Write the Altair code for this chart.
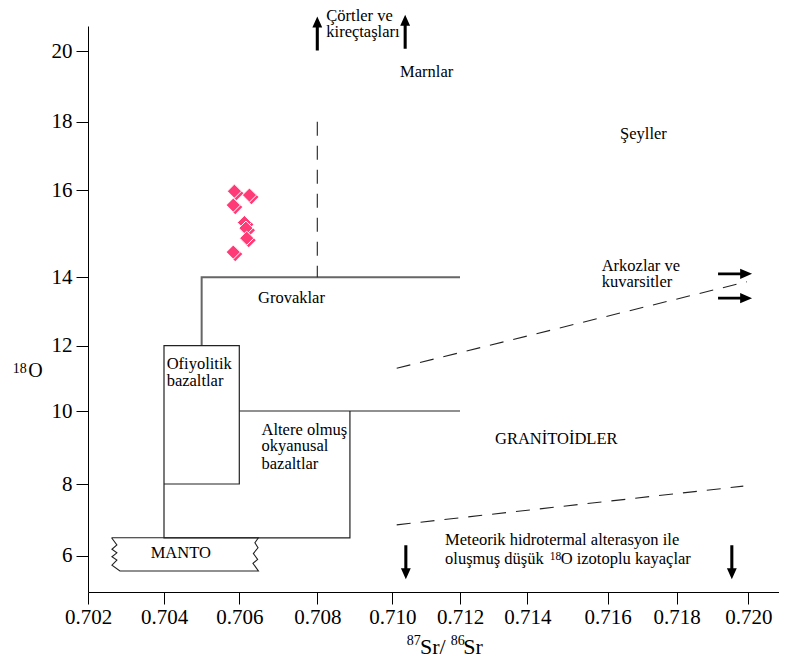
import altair as alt
import pandas as pd

FONT = "'Liberation Serif', 'Times New Roman', Tinos, 'DejaVu Serif', serif"
PINK = "#FF3B77"

# ---- axes (the source figure's tick spacing is slightly uneven) ----
x_domain = [0.702, 0.704, 0.706, 0.708, 0.710, 0.712, 0.714, 0.716, 0.718, 0.720, 0.72086]
x_range = [0, 76, 151.3, 229.3, 304.3, 372, 439.3, 519.7, 588.7, 660.3, 691]
y_domain = [5.0, 6, 8, 10, 12, 14, 16, 18, 20, 20.7]
y_range = [566, 529.7, 458, 385, 319.7, 251.3, 164.3, 95.7, 25, 0]
x_ticks = [0.702, 0.704, 0.706, 0.708, 0.710, 0.712, 0.714, 0.716, 0.718, 0.720]
y_ticks = [6, 8, 10, 12, 14, 16, 18, 20]

# ---- sample points ----
pt_x = [0.70587, 0.70626, 0.70584, 0.70613, 0.70617, 0.70619, 0.70584]
pt_y = [15.98, 15.89, 15.66, 15.26, 15.13, 14.90, 14.58]

# ---- field outlines ----
grov_x = [0.705, 0.705, 0.712]
grov_y = [12, 14, 14]
ofi_x = [0.704, 0.704, 0.706, 0.706, 0.704]
ofi_y = [8, 12, 12, 8, 8]
alt_top_x = [0.706, 0.712]
alt_top_y = [10, 10]
altb_x = [0.704, 0.704, 0.70887, 0.70887]
altb_y = [8, 6.5, 6.5, 10]
manto_x = [0.70262, 0.70649, 0.70640, 0.70648, 0.70636, 0.70647, 0.70635, 0.70649,
           0.70284, 0.70263, 0.70276, 0.70263, 0.70276, 0.70263, 0.70276, 0.70262]
manto_y = [6.5, 6.5, 6.36, 6.22, 6.06, 5.90, 5.79, 5.58,
           5.58, 5.74, 5.88, 5.97, 6.08, 6.18, 6.30, 6.5]

# ---- dashed boundaries ----
dv_x = [0.708, 0.708]
dv_y = [18, 14]
du_x = [0.71013, 0.71996]
du_y = [11.31, 13.87]
dl_x = [0.71013, 0.71986]
dl_y = [6.86, 7.94]

# ---- arrows ----
arrow_x = [0.708, 0.71038, 0.71963, 0.71963, 0.71040, 0.71954]
arrow_y = [20.49, 20.54, 14.08, 13.39, 5.82, 5.82]
arrow_dir = ["up", "up", "right", "right", "down", "down"]

# ---- annotation text ----
labels = ["Çörtler ve", "kireçtaşları", "Marnlar", "Şeyller", "Arkozlar ve", "kuvarsitler",
          "Grovaklar", "Ofiyolitik", "bazaltlar", "Altere olmuş", "okyanusal", "bazaltlar",
          "MANTO", "GRANİTOİDLER", "Meteorik hidrotermal alterasyon ile", "oluşmuş düşük",
          "O izotoplu kayaçlar"]
label_x = [0.70824, 0.70824, 0.71023, 0.71636, 0.71585, 0.71585,
           0.70648, 0.70407, 0.70407, 0.70657, 0.70657, 0.70657,
           0.70365, 0.71304, 0.71156, 0.71156, 0.71483]
label_y = [20.85, 20.40, 19.26, 17.49, 14.15, 13.71,
           13.24, 11.28, 10.77, 9.34, 8.90, 8.40,
           5.93, 9.10, 6.30, 5.76, 5.76]
sup_label = ["18"]
sup_x = [0.71456]
sup_y = [5.88]


def seg_frame(shapes):
    rows = []
    for name, (xs_, ys_) in shapes.items():
        for i, (a, b) in enumerate(zip(xs_, ys_)):
            rows.append({"seg": name, "o": i, "x": a, "y": b})
    return pd.DataFrame(rows)


xs = alt.Scale(domain=x_domain, range=x_range, nice=False, zero=False)
ys = alt.Scale(domain=y_domain, range=y_range, nice=False, zero=False)
common_axis = dict(title=None, grid=False, labelFont=FONT, labelFontSize=21, labelColor="black",
                   tickSize=12, tickColor="black", tickWidth=1, domainColor="black", domainWidth=1,
                   labelFlush=False, labelOverlap=False)
x_axis = alt.Axis(values=x_ticks, format=".3f", labelPadding=2, **common_axis)
y_axis = alt.Axis(values=y_ticks, format="d", labelPadding=4, **common_axis)


def X():
    return alt.X("x:Q", scale=xs, axis=x_axis)


def Y():
    return alt.Y("y:Q", scale=ys, axis=y_axis)


thick = alt.Chart(seg_frame({"grov": (grov_x, grov_y)})).mark_line(
    color="#666666", strokeWidth=2).encode(x=X(), y=Y(), detail="seg:N", order="o:Q")

thin = alt.Chart(seg_frame({"ofi": (ofi_x, ofi_y), "alt_top": (alt_top_x, alt_top_y),
                            "altb": (altb_x, altb_y)})).mark_line(
    color="#222222", strokeWidth=1.2).encode(x=X(), y=Y(), detail="seg:N", order="o:Q")

manto = alt.Chart(seg_frame({"manto": (manto_x, manto_y)})).mark_line(
    color="#222222", strokeWidth=1.1).encode(x=X(), y=Y(), detail="seg:N", order="o:Q")

dashed = alt.Chart(seg_frame({"v": (dv_x, dv_y), "u": (du_x, du_y), "l": (dl_x, dl_y)})).mark_line(
    color="#222222", strokeWidth=1.1, strokeDash=[14, 10]).encode(
    x=X(), y=Y(), detail="seg:N", order="o:Q")

pts = pd.DataFrame({"x": pt_x, "y": pt_y})
shadow = alt.Chart(pts).mark_point(shape="diamond", filled=True, size=200, color=PINK, opacity=1,
                                   xOffset=2, yOffset=2).encode(x=X(), y=Y())
diam = alt.Chart(pts).mark_point(shape="diamond", filled=True, size=200, fill=PINK, opacity=1,
                                 stroke="white", strokeWidth=1).encode(x=X(), y=Y())

UP = "M-0.09,1L0.09,1L0.09,-0.35L0.29,-0.35L0,-1L-0.29,-0.35L-0.09,-0.35Z"
DOWN = "M-0.09,-1L0.09,-1L0.09,0.35L0.29,0.35L0,1L-0.29,0.35L-0.09,0.35Z"
RIGHT = "M-1,-0.085L0.3,-0.085L0.3,-0.3L1,0L0.3,0.3L0.3,0.085L-1,0.085Z"
arrows = alt.Chart(pd.DataFrame({"x": arrow_x, "y": arrow_y, "d": arrow_dir})).mark_point(
    filled=True, size=1156, color="black", opacity=1, strokeWidth=0).encode(
    x=X(), y=Y(),
    shape=alt.Shape("d:N", scale=alt.Scale(domain=["up", "down", "right"], range=[UP, DOWN, RIGHT]),
                    legend=None))

texts = alt.Chart(pd.DataFrame({"x": label_x, "y": label_y, "t": labels})).mark_text(
    align="left", baseline="alphabetic", font=FONT, fontSize=16.5, color="black").encode(
    x=X(), y=Y(), text="t:N")
sup = alt.Chart(pd.DataFrame({"x": sup_x, "y": sup_y, "t": sup_label})).mark_text(
    align="left", baseline="alphabetic", font=FONT, fontSize=11.5, color="black").encode(
    x=X(), y=Y(), text="t:N")


def title_piece(t, px, py, size):
    return alt.Chart(pd.DataFrame({"t": [t]})).mark_text(
        align="left", baseline="alphabetic", font=FONT, fontSize=size, color="black").encode(
        x=alt.value(px), y=alt.value(py), text="t:N")


titles = [
    title_piece("18", -75.3, 347.3, 14),
    title_piece("O", -59.7, 351.3, 20),
    title_piece("87", 318.7, 619, 14),
    title_piece("Sr/", 332, 627.5, 22),
    title_piece("86", 362.7, 619, 14),
    title_piece("Sr", 375.3, 627.5, 22),
]

chart = alt.layer(thick, thin, manto, dashed, shadow, diam, arrows, texts, sup, *titles).properties(
    width=691, height=566,
    padding={"left": 80, "top": 18, "right": 0, "bottom": 66},
    autosize="none",
    background="white",
).configure_view(stroke=None)

chart.save("out.html", embed_options={"renderer": "svg", "actions": False})
